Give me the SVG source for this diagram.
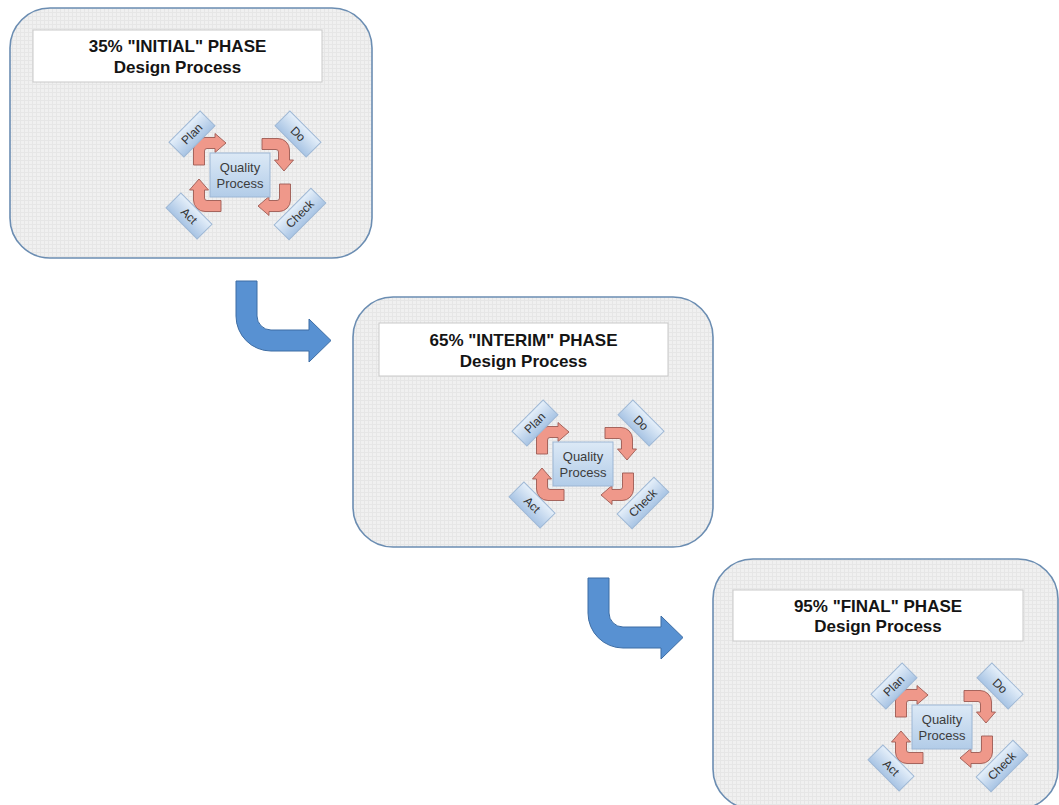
<svg xmlns="http://www.w3.org/2000/svg" xmlns:xlink="http://www.w3.org/1999/xlink" width="1059" height="805" viewBox="0 0 1059 805">
  <style>
    .panel { fill: url(#grid); stroke: #6b8db2; stroke-width: 1.6; }
    .title { fill: #ffffff; stroke: #c9c9c9; stroke-width: 1; }
    .ttext { font-family: "Liberation Sans", Arial, sans-serif; font-weight: bold; font-size: 17px; fill: #141414; text-anchor: middle; }
    .qbox { fill: url(#qgrad); stroke: #9cb6d4; stroke-width: 1; }
    .qtext { font-family: "Liberation Sans", Arial, sans-serif; font-size: 13px; fill: #3c3c3c; text-anchor: middle; }
    .dia { fill: url(#dgrad); stroke: #9fb8d5; stroke-width: 1; }
    .dtext { font-family: "Liberation Sans", Arial, sans-serif; font-size: 12px; fill: #333333; text-anchor: middle; }
    .bigarrow { fill: #5891d2; stroke: #3d6da4; stroke-width: 1; }
    .qarrow { fill: #ef988a; stroke: #9d5a52; stroke-width: 0.9; }
  </style>
  <defs>
    <pattern id="grid" width="4" height="4" patternUnits="userSpaceOnUse">
      <rect width="4" height="4" fill="#f0f0f0"/>
      <path d="M0 0.5 H4 M0.5 0 V4" stroke="#e6e6e6" stroke-width="1"/>
    </pattern>
    <linearGradient id="qgrad" x1="0" y1="0" x2="0" y2="1">
      <stop offset="0" stop-color="#dce9f6"/>
      <stop offset="1" stop-color="#b2cce8"/>
    </linearGradient>
    <linearGradient id="dgrad" x1="0" y1="0" x2="0" y2="1">
      <stop offset="0" stop-color="#e6f0fa"/>
      <stop offset="1" stop-color="#a8c4e4"/>
    </linearGradient>
    <path id="qa" class="qarrow" d="M -5.5 22 V 6 A 11.5 11.5 0 0 1 6 -5.5 H 16 V -9.5 L 27 0 L 16 9.5 V 5.5 H 8 A 2.5 2.5 0 0 0 5.5 8 V 22 Z"/>
  </defs>

  <!-- Panel 1 -->
  <g id="phase-initial">
    <rect class="panel" x="10" y="8" width="362" height="250" rx="40" ry="40"/>
    <rect class="title" x="33" y="30" width="289" height="52"/>
    <text class="ttext" x="177.5" y="52">35% "INITIAL" PHASE</text>
    <text class="ttext" x="177.5" y="73">Design Process</text>
    <g id="cluster-initial" transform="translate(240,175)">
      <use xlink:href="#qa" href="#qa" transform="translate(-41,-32)"/>
      <use xlink:href="#qa" href="#qa" transform="translate(44,-31) rotate(90)"/>
      <use xlink:href="#qa" href="#qa" transform="translate(45,31) rotate(180)"/>
      <use xlink:href="#qa" href="#qa" transform="translate(-41,31) rotate(270)"/>
      <g id="qp-initial"><rect class="qbox" x="-30" y="-22" width="60" height="44"/>
        <text class="qtext" x="0" y="-3">Quality</text><text class="qtext" x="0" y="13">Process</text></g>
      <g id="plan-initial" transform="translate(-48,-41) rotate(-45)"><rect class="dia" x="-22" y="-10.5" width="44" height="21"/><text class="dtext" x="0" y="4">Plan</text></g>
      <g id="do-initial" transform="translate(58,-41) rotate(45)"><rect class="dia" x="-22" y="-10.5" width="44" height="21"/><text class="dtext" x="0" y="4">Do</text></g>
      <g id="check-initial" transform="translate(60,39) rotate(-45)"><rect class="dia" x="-26" y="-10.5" width="52" height="21"/><text class="dtext" x="0" y="4">Check</text></g>
      <g id="act-initial" transform="translate(-51,41) rotate(45)"><rect class="dia" x="-22" y="-10.5" width="44" height="21"/><text class="dtext" x="0" y="4">Act</text></g>
    </g>
  </g>

  <!-- Panel 2 -->
  <g id="phase-interim">
    <rect class="panel" x="353" y="297" width="360" height="250" rx="40" ry="40"/>
    <rect class="title" x="379" y="323" width="289" height="53"/>
    <text class="ttext" x="523.5" y="346">65% "INTERIM" PHASE</text>
    <text class="ttext" x="523.5" y="367">Design Process</text>
    <g id="cluster-interim" transform="translate(583,464)">
      <use xlink:href="#qa" href="#qa" transform="translate(-41,-32)"/>
      <use xlink:href="#qa" href="#qa" transform="translate(44,-31) rotate(90)"/>
      <use xlink:href="#qa" href="#qa" transform="translate(45,31) rotate(180)"/>
      <use xlink:href="#qa" href="#qa" transform="translate(-41,31) rotate(270)"/>
      <g id="qp-interim"><rect class="qbox" x="-30" y="-22" width="60" height="44"/>
        <text class="qtext" x="0" y="-3">Quality</text><text class="qtext" x="0" y="13">Process</text></g>
      <g id="plan-interim" transform="translate(-48,-41) rotate(-45)"><rect class="dia" x="-22" y="-10.5" width="44" height="21"/><text class="dtext" x="0" y="4">Plan</text></g>
      <g id="do-interim" transform="translate(58,-41) rotate(45)"><rect class="dia" x="-22" y="-10.5" width="44" height="21"/><text class="dtext" x="0" y="4">Do</text></g>
      <g id="check-interim" transform="translate(60,39) rotate(-45)"><rect class="dia" x="-26" y="-10.5" width="52" height="21"/><text class="dtext" x="0" y="4">Check</text></g>
      <g id="act-interim" transform="translate(-51,41) rotate(45)"><rect class="dia" x="-22" y="-10.5" width="44" height="21"/><text class="dtext" x="0" y="4">Act</text></g>
    </g>
  </g>

  <!-- Panel 3 -->
  <g id="phase-final">
    <rect class="panel" x="713" y="559" width="345" height="250" rx="40" ry="40"/>
    <rect class="title" x="733" y="590" width="290" height="51"/>
    <text class="ttext" x="878" y="612">95% "FINAL" PHASE</text>
    <text class="ttext" x="878" y="632">Design Process</text>
    <g id="cluster-final" transform="translate(942,727)">
      <use xlink:href="#qa" href="#qa" transform="translate(-41,-32)"/>
      <use xlink:href="#qa" href="#qa" transform="translate(44,-31) rotate(90)"/>
      <use xlink:href="#qa" href="#qa" transform="translate(45,31) rotate(180)"/>
      <use xlink:href="#qa" href="#qa" transform="translate(-41,31) rotate(270)"/>
      <g id="qp-final"><rect class="qbox" x="-30" y="-22" width="60" height="44"/>
        <text class="qtext" x="0" y="-3">Quality</text><text class="qtext" x="0" y="13">Process</text></g>
      <g id="plan-final" transform="translate(-48,-41) rotate(-45)"><rect class="dia" x="-22" y="-10.5" width="44" height="21"/><text class="dtext" x="0" y="4">Plan</text></g>
      <g id="do-final" transform="translate(58,-41) rotate(45)"><rect class="dia" x="-22" y="-10.5" width="44" height="21"/><text class="dtext" x="0" y="4">Do</text></g>
      <g id="check-final" transform="translate(60,39) rotate(-45)"><rect class="dia" x="-26" y="-10.5" width="52" height="21"/><text class="dtext" x="0" y="4">Check</text></g>
      <g id="act-final" transform="translate(-51,41) rotate(45)"><rect class="dia" x="-22" y="-10.5" width="44" height="21"/><text class="dtext" x="0" y="4">Act</text></g>
    </g>
  </g>

  <!-- Connectors -->
  <g id="connectors">
    <path class="bigarrow" d="M236 281 H257 V316 A14 14 0 0 0 271 330 H309 V319 L331 340.5 L309 362 V351 H271 A35 35 0 0 1 236 316 Z"/>
    <path class="bigarrow" transform="translate(352,297)" d="M236 281 H257 V316 A14 14 0 0 0 271 330 H309 V319 L331 340.5 L309 362 V351 H271 A35 35 0 0 1 236 316 Z"/>
  </g>
</svg>
